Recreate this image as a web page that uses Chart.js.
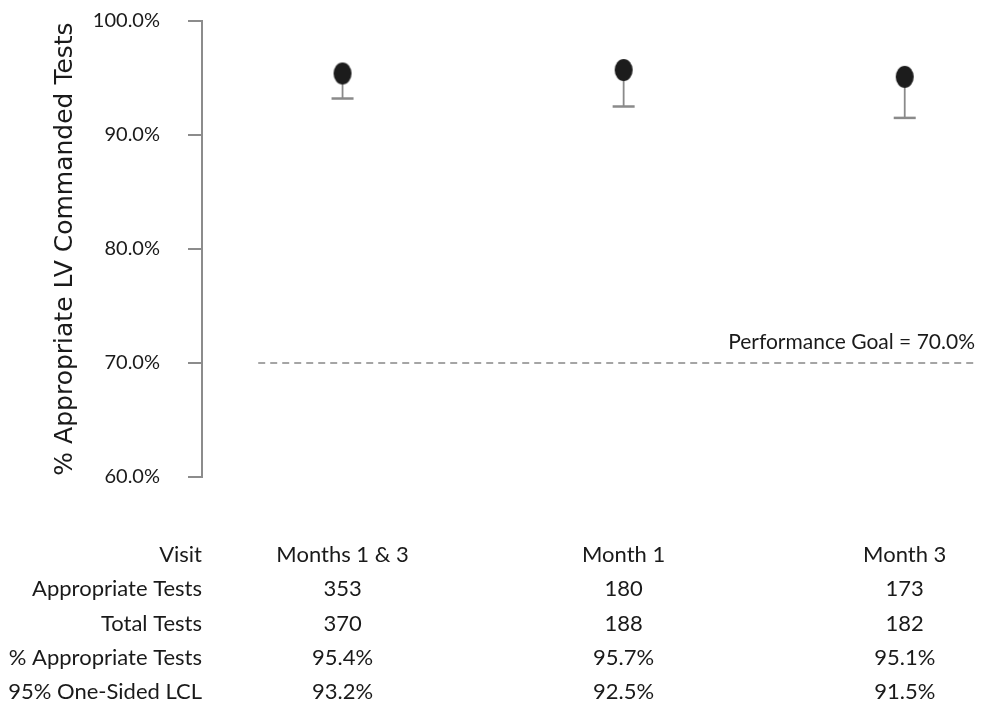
<!DOCTYPE html>
<html>
<head>
<meta charset="utf-8">
<script src="https://cdn.jsdelivr.net/npm/chart.js@4"></script>
<style>
  body { margin: 0; background: #fff; }
</style>
</head>
<body>
<canvas id="chart" width="981" height="702"></canvas>
<script>
// data
const visits = ['Months 1 & 3', 'Month 1', 'Month 3'];
const appropriateTests = [353, 180, 173];
const totalTests = [370, 188, 182];
const pctAppropriate = [95.4, 95.7, 95.1];
const lowerLimit = [93.2, 92.5, 91.5];
const performanceGoal = 70.0;
const rowLabels = ['Visit', 'Appropriate Tests', 'Total Tests', '% Appropriate Tests', '95% One-Sided LCL'];

const FONT = 'Lato, "DejaVu Sans", sans-serif';
const TEXT = '#1a1a1a';
const AXIS = '#8c8c8c';

// tall oval marker like the original
function makeDot() {
  const c = document.createElement('canvas');
  c.width = 20; c.height = 24;
  const g = c.getContext('2d');
  g.fillStyle = '#1c1c1c';
  g.beginPath();
  g.ellipse(10, 12, 9, 11, 0, 0, Math.PI * 2);
  g.fill();
  return c;
}

const pct = v => v.toFixed(1) + '%';

const errorBars = {
  id: 'errorBars',
  beforeDatasetsDraw(chart) {
    const { ctx, scales: { x, y } } = chart;
    ctx.save();
    ctx.strokeStyle = '#8a8a8a';
    pctAppropriate.forEach((v, i) => {
      const px = x.getPixelForValue(i);
      const top = y.getPixelForValue(v);
      const bot = y.getPixelForValue(lowerLimit[i]);
      ctx.lineWidth = 1.8;
      ctx.beginPath();
      ctx.moveTo(px, top);
      ctx.lineTo(px, bot);
      ctx.stroke();
      ctx.lineWidth = 2.5;
      ctx.beginPath();
      ctx.moveTo(px - 11, bot);
      ctx.lineTo(px + 11, bot);
      ctx.stroke();
    });
    ctx.restore();
  }
};

const goalAndTable = {
  id: 'goalAndTable',
  afterDraw(chart) {
    const { ctx, chartArea, scales: { x, y } } = chart;
    ctx.save();

    // performance goal line
    const gy = y.getPixelForValue(performanceGoal);
    ctx.strokeStyle = '#888';
    ctx.lineWidth = 1.5;
    ctx.setLineDash([7, 5]);
    ctx.beginPath();
    ctx.moveTo(x.getPixelForValue(-0.3), gy);
    ctx.lineTo(chartArea.right, gy);
    ctx.stroke();
    ctx.setLineDash([]);

    ctx.fillStyle = TEXT;
    ctx.font = '21px ' + FONT;
    ctx.textAlign = 'right';
    ctx.textBaseline = 'alphabetic';
    ctx.fillText('Performance Goal = ' + pct(performanceGoal), chartArea.right, gy - 14);

    // summary table under the plot
    const rows = [
      visits,
      appropriateTests.map(String),
      totalTests.map(String),
      pctAppropriate.map(pct),
      lowerLimit.map(pct)
    ];
    ctx.font = '22px ' + FONT;
    rowLabels.forEach((label, r) => {
      const ty = chartArea.bottom + 85 + r * 34.3;
      ctx.textAlign = 'right';
      ctx.fillText(label, chartArea.left, ty);
      ctx.textAlign = 'center';
      rows[r].forEach((val, i) => ctx.fillText(val, x.getPixelForValue(i), ty));
    });
    ctx.restore();
  }
};

const ctx = document.getElementById('chart').getContext('2d');
new Chart(ctx, {
  type: 'scatter',
  data: {
    datasets: [{
      data: pctAppropriate.map((v, i) => ({ x: i, y: v })),
      pointStyle: makeDot(),
      pointRadius: 10,
      pointHoverRadius: 10
    }]
  },
  options: {
    responsive: false,
    animation: false,
    events: [],
    layout: { autoPadding: false, padding: { top: 21, bottom: 225, left: 0, right: 6 } },
    plugins: { legend: { display: false }, tooltip: { enabled: false } },
    scales: {
      x: { type: 'linear', display: false, min: -0.5, max: 2.25 },
      y: {
        min: 60,
        max: 100,
        ticks: {
          stepSize: 10,
          padding: 28,
          color: TEXT,
          font: { family: FONT, size: 20 },
          callback: v => pct(v)
        },
        grid: { drawOnChartArea: false, tickLength: 14, color: AXIS, lineWidth: 2 },
        border: { color: AXIS, width: 2 },
        title: {
          display: true,
          text: '% Appropriate LV Commanded Tests',
          color: TEXT,
          font: { family: '"DejaVu Sans", sans-serif', size: 25 },
          padding: { top: 50 }
        },
        afterFit(scale) {
          scale.width = 202;
          scale.paddingTop = 0;
          scale.paddingBottom = 0;
        }
      }
    }
  },
  plugins: [errorBars, goalAndTable]
});
</script>
</body>
</html>
